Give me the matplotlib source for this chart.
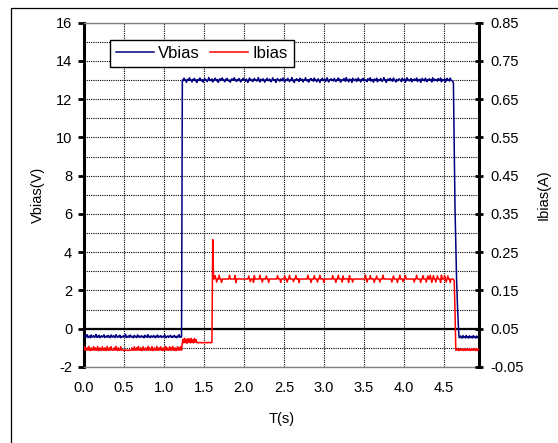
import numpy as np
import matplotlib
matplotlib.use('Agg')
import matplotlib.pyplot as plt
from matplotlib.lines import Line2D
from matplotlib.ticker import MultipleLocator, FormatStrFormatter

plt.rcParams['font.family'] = ['Liberation Sans', 'DejaVu Sans']
plt.rcParams['font.size'] = 10
plt.rcParams['axes.unicode_minus'] = False

DT = 0.01  # sampling period (s)

# Vbias (V)
vbias_start = [
    -0.42, -0.35, -0.45, -0.40, -0.31, -0.46, -0.41, -0.38, -0.47, -0.33,
    -0.44, -0.40, -0.36, -0.46, -0.42, -0.30, -0.45, -0.39, -0.43, -0.34,
    -0.47, -0.41, -0.37, -0.44, -0.40, -0.32, -0.46, -0.42, -0.38, -0.45,
    -0.35, -0.43, -0.40, -0.47, -0.33, -0.41, -0.44, -0.36, -0.42, -0.46,
    -0.31, -0.40, -0.45, -0.38, -0.43, -0.34, -0.47, -0.41, -0.39, -0.44,
    -0.36, -0.42, -0.30, -0.46, -0.40, -0.43, -0.37, -0.45, -0.33, -0.41,
    -0.44, -0.39, -0.47, -0.35, -0.42, -0.40, -0.46, -0.32, -0.43, -0.38,
    -0.45, -0.41, -0.36, -0.44, -0.40, -0.47, -0.34, -0.42, -0.39, -0.45,
    -0.31, -0.43, -0.40, -0.46, -0.37, -0.42, -0.44, -0.35, -0.41, -0.47,
    -0.38, -0.43, -0.33, -0.45, -0.40, -0.42, -0.36, -0.46, -0.41, -0.39,
    -0.44, -0.32, -0.43, -0.47, -0.40, -0.37, -0.45, -0.42, -0.34, -0.41,
    -0.46, -0.39, -0.43, -0.35, -0.44, -0.40, -0.47, -0.38, -0.42, -0.31,
    -0.45, -0.41, -0.43]
vbias_high = [
    13.00, 12.97, 13.10, 12.99, 13.02, 12.88, 13.01, 13.05, 12.98, 13.12,
    12.99, 13.01, 12.90, 13.03, 13.00, 13.09, 12.97, 13.02, 12.87, 13.00,
    13.04, 12.98, 13.11, 13.00, 12.96, 13.02, 12.89, 13.01, 13.08, 12.99,
    13.01, 12.92, 13.00, 13.13, 12.98, 13.02, 12.97, 13.06, 12.90, 13.00,
    12.99, 13.10, 13.01, 12.96, 13.03, 12.88, 13.00, 13.07, 12.98, 13.02,
    13.11, 12.99, 13.00, 12.91, 13.04, 12.98, 13.09, 13.01, 12.95, 13.00,
    12.89, 13.02, 13.06, 12.99, 13.00, 13.12, 12.97, 13.01, 12.93, 13.03,
    13.00, 13.08, 12.98, 12.90, 13.02, 13.00, 13.10, 12.99, 13.01, 12.94,
    13.05, 12.99, 12.88, 13.01, 13.11, 13.00, 12.97, 13.03, 12.92, 13.00,
    13.09, 12.98, 13.02, 12.95, 13.00, 13.13, 12.99, 12.90, 13.04, 13.01,
    12.97, 13.07, 13.00, 12.89, 13.02, 12.99, 13.10, 13.00, 12.96, 13.05,
    13.01, 12.91, 12.99, 13.12, 13.00, 12.98, 13.03, 12.88, 13.01, 13.08,
    12.99, 13.00, 12.94, 13.06, 13.02, 12.97, 13.11, 12.99, 12.90, 13.01,
    13.04, 12.98, 13.09, 13.00, 12.92, 13.02, 12.99, 13.13, 12.96, 13.00,
    12.87, 13.03, 13.00, 13.07, 12.98, 13.01, 12.93, 13.10, 13.00, 12.99,
    13.05, 12.90, 13.01, 12.99, 13.12, 13.00, 12.96, 13.02, 12.89, 13.04,
    13.00, 13.08, 12.98, 13.01, 12.94, 13.11, 12.99, 13.00, 12.91, 13.03,
    13.06, 12.99, 12.88, 13.02, 13.00, 13.10, 12.97, 13.01, 13.05, 12.93,
    13.00, 13.12, 12.99, 12.90, 13.03, 13.00, 13.07, 12.98, 13.02, 12.95,
    13.09, 13.00, 12.92, 13.01, 12.99, 13.11, 12.97, 13.04, 12.89, 13.00,
    13.02, 12.98, 13.08, 13.00, 12.94, 13.13, 12.99, 13.01, 12.91, 13.05,
    12.99, 13.03, 12.88, 13.10, 13.00, 12.97, 13.02, 13.06, 12.93, 13.00,
    13.11, 12.99, 13.01, 12.90, 13.04, 13.00, 13.09, 12.96, 13.02, 12.98,
    13.00, 12.92, 13.07, 13.01, 12.99, 13.12, 12.95, 13.00, 13.03, 12.89,
    13.05, 13.00, 12.98, 13.10, 12.91, 13.02, 13.00, 12.97, 13.08, 12.99,
    12.93, 13.01, 13.13, 12.99, 13.03, 12.88, 13.00, 13.06, 12.98, 13.02,
    13.09, 12.97, 13.00, 12.94, 13.11, 13.01, 12.99, 12.90, 13.04, 13.00,
    12.96, 13.07, 13.02, 12.99, 12.92, 13.10, 13.00, 12.98, 13.05, 12.89,
    13.01, 13.12, 12.99, 13.03, 12.95, 13.00, 13.08, 12.91, 13.02, 12.99,
    13.06, 12.98, 13.00, 13.11, 12.93, 13.01, 12.99, 13.04, 12.88, 13.00,
    13.09, 12.99, 13.02, 12.96, 13.10, 13.00, 12.92, 13.03, 12.99, 13.07,
    12.98, 13.01, 12.90, 13.12, 13.00, 12.97, 13.05, 12.99, 13.02, 12.94,
    13.08, 13.00, 12.99, 13.11, 12.91, 13.03, 13.00, 12.98, 13.06, 12.89,
    13.01, 13.09, 12.99, 13.02, 12.95, 13.10, 13.00, 12.97, 12.93]
vbias_fall = [12.85, 9.5, 6.3, 4.5, 2.5, 1.3, 0.3, -0.45]
vbias_end = [
    -0.47, -0.38, -0.44, -0.49, -0.36, -0.45, -0.42, -0.48, -0.35, -0.46,
    -0.43, -0.49, -0.37, -0.44, -0.47, -0.40, -0.48, -0.36, -0.45, -0.43,
    -0.49, -0.38, -0.46, -0.44, -0.41]

# Ibias (mA)
ibias_start = [
    -6, 3, -6, -6, 0, -6, 4, -6, -7, 0,
    -6, -6, 3, -6, 0, -6, -6, 4, -7, -6,
    0, -6, -6, 3, -6, -6, 0, -7, -6, 4,
    -6, -6, 0, -6, 3, -6, -6, -6, 0, -6,
    4, -6, -7, 0, -6, -6, 3, -6, -6, -6,
    -7, -6, -6, -6, -6, -7, -6, -6, -6, -6,
    0, -6, -6, 3, -6, -6, 0, -6, 4, -6,
    -6, 0, -7, -6, 3, -6, -6, 0, -6, -6,
    4, -6, 0, -6, -6, 3, -7, -6, 0, -6,
    -6, 4, -6, -6, 0, -6, 3, -6, -7, 0,
    -6, -6, 4, -6, 0, -6, -6, 3, -6, 0,
    -6, 4, -6, -6, 0, -7, -6, 3, -6, 0,
    -6, 3, -6]
ibias_mid = [
    14, 23, 13, 25, 14, 22, 12, 24, 15, 23,
    13, 25, 14, 21, 13, 24, 15, 22, 14, 14,
    13, 14, 14, 14, 13, 14, 14, 13, 14, 14,
    14, 13, 14, 14, 14, 13, 14, 14]
ibias_spike = [283]
ibias_high = [
    180, 181, 189, 180, 172, 180, 180, 190, 180, 180,
    171, 180, 180, 180, 180, 180, 180, 180, 180, 180,
    190, 180, 180, 180, 180, 180, 180, 189, 171, 180,
    180, 180, 181, 180, 180, 180, 180, 180, 180, 180,
    180, 180, 180, 180, 188, 180, 173, 180, 180, 180,
    171, 189, 180, 180, 180, 180, 180, 180, 190, 180,
    180, 172, 180, 181, 180, 180, 188, 180, 180, 171,
    180, 180, 180, 180, 180, 180, 180, 180, 180, 180,
    189, 180, 181, 180, 171, 180, 180, 180, 180, 188,
    180, 180, 172, 180, 180, 190, 180, 180, 180, 180,
    173, 180, 180, 189, 180, 180, 181, 171, 180, 180,
    180, 180, 180, 180, 180, 180, 180, 180, 190, 180,
    180, 180, 171, 180, 180, 180, 189, 180, 180, 180,
    172, 180, 180, 190, 180, 181, 180, 180, 171, 180,
    180, 180, 180, 180, 180, 180, 180, 180, 180, 189,
    180, 180, 180, 171, 180, 180, 190, 180, 180, 180,
    180, 172, 188, 180, 180, 180, 180, 181, 180, 171,
    189, 180, 180, 180, 172, 180, 180, 180, 180, 180,
    180, 180, 180, 180, 180, 180, 180, 180, 180, 180,
    190, 180, 172, 180, 180, 180, 189, 180, 181, 180,
    180, 171, 180, 180, 188, 180, 180, 180, 172, 180,
    180, 180, 190, 180, 180, 180, 180, 180, 180, 180,
    180, 180, 180, 172, 180, 188, 180, 180, 180, 180,
    171, 180, 180, 190, 180, 180, 180, 173, 180, 180,
    189, 180, 180, 180, 180, 180, 180, 180, 180, 180,
    180, 172, 180, 180, 190, 180, 180, 180, 180, 171,
    180, 180, 189, 180, 180, 180, 172, 180, 188, 180,
    180, 190, 180, 171, 180, 189, 180, 180, 172, 180,
    188, 180, 180, 180, 171, 190, 180, 180, 180, 189,
    180, 172, 180, 188, 180, 180, 171, 180, 180, 180,
    179, 176]
ibias_fall = [95]
ibias_end = [
    -6, -6, -2, -6, -7, -2, -6, -6, -2, -6,
    -7, -2, -6, -6, -2, -6, -6, -2, -7, -6,
    -2, -6, -6, -2, -6, -7, -2, -6, -6, -2]

vbias = np.array(vbias_start + vbias_high + vbias_fall + vbias_end)
ibias = np.array(ibias_start + ibias_mid + ibias_spike + ibias_high
                 + ibias_fall + ibias_end) / 1000.0
assert len(vbias) == len(ibias), (len(vbias), len(ibias))
t = np.arange(len(vbias)) * DT

W, H = 558, 443
fig = plt.figure(figsize=(W / 100, H / 100), dpi=100)
fig.patch.set_facecolor('white')
ax = fig.add_axes([84 / W, 1 - 367 / H, 395 / W, 344.3 / H])
ax2 = ax.twinx()

# outer frame (only left and top edges fall inside the picture)
fig.add_artist(Line2D([11 / W, 11 / W, 1], [0, 1 - 7.5 / H, 1 - 7.5 / H],
                      transform=fig.transFigure, color='black', lw=0.9))

l1, = ax.plot(t, vbias, color='#000080', lw=1.1, zorder=3)
l2, = ax2.plot(t, ibias, color='#ff0000', lw=1.1, zorder=3)
ax.axhline(0, color='black', lw=1.6, zorder=2)

ax.set_xlim(0, 4.94)
ax.set_ylim(-2, 16)
ax2.set_ylim(-0.05, 0.85)

ax.set_xticks(np.arange(0, 4.6, 0.5))
ax.xaxis.set_major_formatter(FormatStrFormatter('%.1f'))
ax.yaxis.set_major_locator(MultipleLocator(2))
ax.yaxis.set_minor_locator(MultipleLocator(1))
ax2.set_yticks(np.arange(-0.05, 0.851, 0.1))
ax2.yaxis.set_major_formatter(FormatStrFormatter('%.2f'))

grid_kw = dict(color='black', lw=0.8, linestyle=(0, (1, 1)))
ax.grid(which='both', axis='y', **grid_kw)
ax.grid(which='major', axis='x', **grid_kw)
ax.set_axisbelow(True)

ax.tick_params(axis='x', length=0, pad=10, labelsize=10.5)
ax.tick_params(axis='y', which='major', direction='out', length=4,
               width=2, pad=4.5, labelsize=10.5)
ax.tick_params(axis='y', which='minor', length=0)
ax2.tick_params(axis='y', direction='inout', length=5.5, width=2,
                pad=5.5, labelsize=10.5)

for s in ('top', 'bottom'):
    ax.spines[s].set_color('#808080')
    ax.spines[s].set_linewidth(1.0)
ax.spines['left'].set_linewidth(2.2)
ax.spines['right'].set_visible(False)
for s in ('left', 'top', 'bottom'):
    ax2.spines[s].set_visible(False)
ax2.spines['right'].set_linewidth(2.2)

ax.set_xlabel('T(s)', fontsize=10.5)
ax.xaxis.set_label_coords(0.5, -0.130)
ax.set_ylabel('Vbias(V)', fontsize=10.5)
ax.yaxis.set_label_coords(-0.099, 0.5)
ax2.set_ylabel('Ibias(A)', fontsize=10.5)
ax2.yaxis.set_label_coords(1.146, 0.5)

leg = ax2.legend([l1, l2], ['Vbias', 'Ibias'], loc='upper left',
                 bbox_to_anchor=((110 - 84) / 395, (367 - 40) / 344.3),
                 ncol=2, fontsize=12, frameon=True, fancybox=False,
                 edgecolor='black', framealpha=1, borderaxespad=0,
                 handlelength=2.3, handletextpad=0.25, columnspacing=0.6,
                 borderpad=0.35)
leg.get_frame().set_linewidth(1.0)

fig.savefig('out.png', dpi=100)
